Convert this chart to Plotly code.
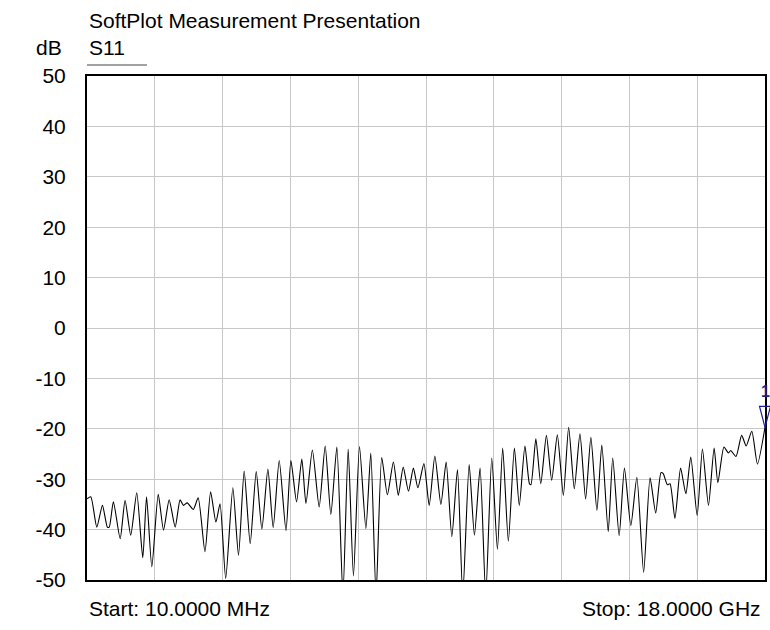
import plotly.graph_objects as go

# Frequency (GHz) and S11 magnitude (dB) (peaks and troughs)
freq_ghz = [
    0.01, 0.11, 0.27, 0.42, 0.55, 0.60, 0.71, 0.89, 1.02, 1.17,
    1.33, 1.49, 1.59, 1.73, 1.90, 2.04, 2.19, 2.35, 2.48, 2.57,
    2.67, 2.83, 2.96, 3.14, 3.29, 3.43, 3.54, 3.69, 3.88, 4.03,
    4.18, 4.34, 4.50, 4.65, 4.81, 4.95, 5.11, 5.29, 5.42, 5.57,
    5.71, 5.82, 5.99, 6.17, 6.33, 6.48, 6.64, 6.80, 6.94, 7.08,
    7.24, 7.41, 7.54, 7.68, 7.83, 7.98, 8.14, 8.27, 8.40, 8.54,
    8.67, 8.79, 8.95, 9.09, 9.24, 9.40, 9.54, 9.69, 9.84, 9.98,
    10.15, 10.29, 10.44, 10.59, 10.75, 10.90, 11.04, 11.19, 11.35, 11.48,
    11.63, 11.75, 11.79, 11.92, 12.05, 12.20, 12.34, 12.49, 12.65, 12.79,
    12.94, 13.09, 13.24, 13.38, 13.54, 13.67, 13.84, 13.96, 14.13, 14.27,
    14.44, 14.60, 14.78, 14.95, 15.10, 15.24, 15.30, 15.41, 15.48, 15.61,
    15.76, 15.90, 16.03, 16.20, 16.34, 16.50, 16.65, 16.75, 16.91, 17.03,
    17.09, 17.23, 17.38, 17.50, 17.65, 17.80, 18.00,
]
s11_db = [
    -33.9, -33.5, -39.5, -35.2, -39.5, -39.5, -34.5, -41.8, -34.2, -41.1,
    -32.7, -45.6, -33.5, -47.4, -33.0, -40.1, -34.1, -39.5, -34.1, -35.2,
    -34.7, -36.0, -33.7, -44.4, -32.5, -38.5, -34.9, -49.7, -31.7, -45.1,
    -28.4, -42.8, -28.5, -39.9, -28.0, -39.6, -26.3, -40.2, -26.3, -34.5,
    -26.0, -34.8, -24.2, -35.5, -23.4, -37.0, -23.6, -53.0, -24.0, -49.2,
    -23.5, -39.8, -24.8, -53.0, -25.7, -33.1, -26.6, -33.2, -27.6, -32.4,
    -27.8, -31.7, -26.9, -35.2, -25.4, -35.0, -26.6, -41.4, -28.1, -53.0,
    -27.1, -41.1, -27.8, -53.0, -25.8, -43.9, -23.8, -42.3, -23.8, -35.2,
    -23.4, -30.9, -31.1, -22.0, -30.9, -21.3, -30.2, -21.2, -33.2, -19.7,
    -31.9, -21.0, -33.9, -21.7, -36.2, -23.2, -40.4, -25.8, -41.2, -27.8,
    -39.2, -29.6, -48.5, -29.7, -36.7, -28.7, -28.9, -31.1, -30.9, -37.8,
    -27.8, -32.9, -25.6, -37.2, -24.0, -35.2, -23.8, -30.7, -23.6, -24.8,
    -24.3, -25.5, -21.3, -23.4, -20.5, -27.0, -19.7,
]

y_ticks = [-50, -40, -30, -20, -10, 0, 10, 20, 30, 40, 50]
y_tick_text = ["-50", "-40", "-30", "-20", "-10", "0", "10", "20", "30", "40", "50"]
title_text = "SoftPlot Measurement Presentation"
trace_name = "S11"
unit_label = "dB"
start_label = "Start: 10.0000 MHz"
stop_label = "Stop: 18.0000 GHz"
marker_label = "1"

FONT = "Liberation Sans, Arial, sans-serif"
FS = 21
NAVY = "#1c1c96"

fig = go.Figure()
fig.add_trace(go.Scatter(
    x=freq_ghz, y=s11_db, mode="lines",
    line=dict(color="black", width=1.1, shape="spline", smoothing=0.6),
    hoverinfo="skip", showlegend=False,
))

f0, f1 = freq_ghz[0], freq_ghz[-1]
ndiv = 10

fig.update_layout(
    width=770, height=630,
    margin=dict(l=87, r=5, t=76, b=50, autoexpand=False),
    paper_bgcolor="white", plot_bgcolor="white",
    font=dict(family=FONT, size=FS, color="black"),
    xaxis=dict(
        range=[f0, f1], tick0=f0, dtick=(f1 - f0) / ndiv,
        showticklabels=False, showgrid=True, gridcolor="#c8c8c8", gridwidth=1,
        zeroline=False, showline=True, linecolor="black", linewidth=2, mirror=True,
        ticks="", automargin=False,
    ),
    yaxis=dict(
        range=[y_ticks[0], y_ticks[-1]], tickvals=y_ticks, ticktext=y_tick_text,
        showgrid=True, gridcolor="#c8c8c8", gridwidth=1,
        zeroline=False, showline=True, linecolor="black", linewidth=2, mirror=True,
        ticks="", ticklabelstandoff=15, automargin=False,
        tickfont=dict(family=FONT, size=FS, color="black"),
    ),
)

ann_font = dict(family=FONT, size=FS, color="black")
fig.add_annotation(text=title_text, xref="paper", yref="paper",
                   x=0.0, y=1.111, xanchor="left", yanchor="middle",
                   showarrow=False, font=ann_font)
fig.add_annotation(text=unit_label, xref="paper", yref="paper",
                   x=-0.056, y=1.0575, xanchor="center", yanchor="middle",
                   showarrow=False, font=ann_font)
fig.add_annotation(text=trace_name, xref="paper", yref="paper",
                   x=0.0, y=1.0575, xanchor="left", yanchor="middle",
                   showarrow=False, font=ann_font)
fig.add_annotation(text=start_label, xref="paper", yref="paper",
                   x=0.0, y=-0.0556, xanchor="left", yanchor="middle",
                   showarrow=False, font=ann_font)
fig.add_annotation(text=stop_label, xref="paper", yref="paper",
                   x=0.997, y=-0.0556, xanchor="right", yanchor="middle",
                   showarrow=False, font=ann_font)

# underline under trace name
fig.add_shape(type="line", xref="paper", yref="paper",
              x0=0.0, x1=0.0885, y0=1.0218, y1=1.0218,
              line=dict(color="#444444", width=1))

# marker 1 at the stop frequency (x given as its fraction of the x range, so it is not clipped)
marker_xfrac = (freq_ghz[-1] - f0) / (f1 - f0)
fig.add_shape(type="path", xref="paper", yref="y",
              xsizemode="pixel", ysizemode="pixel",
              xanchor=marker_xfrac, yanchor=s11_db[-1],
              path="M -5.5 21 L 5.5 21 L 0 0 Z",
              line=dict(color=NAVY, width=1.2), fillcolor="rgba(0,0,0,0)")
fig.add_annotation(text="<b>" + marker_label + "</b>", x=freq_ghz[-1], y=s11_db[-1],
                   xref="x", yref="y", showarrow=False, yshift=36,
                   font=dict(family=FONT, size=16, color=NAVY))

# remove the default page margin so the 770x630 figure fills the window exactly
page_fix = ("document.body.style.margin='0';"
            "document.body.style.overflow='hidden';"
            "document.documentElement.style.overflow='hidden';")
fig.write_html("out.html", post_script=page_fix, config={"displayModeBar": False})
